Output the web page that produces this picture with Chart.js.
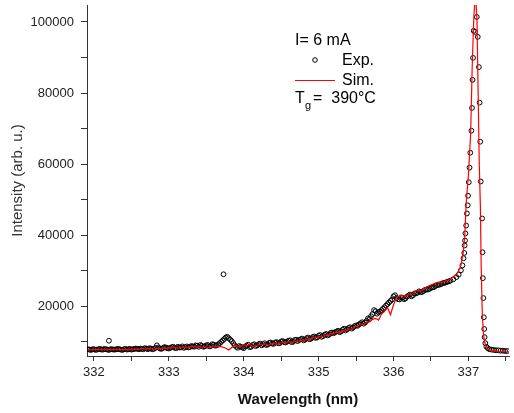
<!DOCTYPE html>
<html>
<head>
<meta charset="utf-8">
<title>Intensity vs wavelength</title>
<script src="https://cdn.jsdelivr.net/npm/chart.js@4.4.1/dist/chart.umd.min.js"></script>
<style>
  html, body { margin: 0; padding: 0; background: #fff; }
  #wrap { width: 514px; height: 413px; }
</style>
</head>
<body>
<div id="wrap"><canvas id="chart-spectrum" width="514" height="413"></canvas></div>
<script>
// ── Data ──────────────────────────────────────────────────────────
// common wavelength grid (nm) for the slowly rising part of the band
const lowWavelength = [
  331.92, 331.96, 332.00, 332.04, 332.08, 332.12, 332.16, 332.20, 332.24, 332.28,
  332.32, 332.36, 332.40, 332.44, 332.48, 332.52, 332.56, 332.60, 332.64, 332.68,
  332.72, 332.76, 332.80, 332.84, 332.88, 332.92, 332.96, 333.00, 333.04, 333.08,
  333.12, 333.16, 333.20, 333.24, 333.28, 333.32, 333.36, 333.40, 333.44, 333.48,
  333.52, 333.56, 333.60, 333.64, 333.68, 333.72, 333.76, 333.80, 333.84, 333.88,
  333.92, 333.96, 334.00, 334.04, 334.08, 334.12, 334.16, 334.20, 334.24, 334.28,
  334.32, 334.36, 334.40, 334.44, 334.48, 334.52, 334.56, 334.60, 334.64, 334.68,
  334.72, 334.76, 334.80, 334.84, 334.88, 334.92, 334.96, 335.00, 335.04, 335.08,
  335.12, 335.16, 335.20, 335.24, 335.28, 335.32, 335.36, 335.40, 335.44, 335.48,
  335.52, 335.56, 335.60, 335.64, 335.68, 335.72, 335.76, 335.80, 335.84, 335.88,
  335.92, 335.96, 336.00, 336.04, 336.08, 336.12, 336.16, 336.20, 336.24, 336.28,
  336.32, 336.36, 336.40, 336.44, 336.48, 336.52, 336.56, 336.60, 336.64, 336.68,
  336.72, 336.76,
];

const expLowIntensity = [
  7900, 7700, 7900, 7800, 8000, 7800, 7900, 7700, 7900, 7800,
  8000, 7800, 7900, 7800, 8000, 7900, 8100, 7900, 8000, 8200,
  7900, 8100, 8000, 9000, 8100, 8200, 8400, 8100, 8500, 8300,
  8600, 8400, 8300, 8700, 8500, 8700, 9000, 8600, 8900, 8700,
  9100, 8800, 9200, 9000, 9600, 10400, 11200, 11000, 10200, 9000,
  8300, 8600, 8200, 8900, 8500, 9100, 8800, 9300, 9000, 9600,
  9200, 9800, 9400, 9900, 9600, 10200, 9800, 10300, 9900, 10500,
  10200, 10700, 10400, 11000, 10700, 11300, 11100, 11700, 11400, 12000,
  11800, 12500, 12400, 12900, 12700, 13400, 13200, 13900, 13700, 14400,
  14500, 15200, 15100, 15900, 16400, 17800, 18600, 18300, 18900, 19700,
  20600, 21500, 22800, 22300, 21900, 22400, 22200, 23000, 22800, 23600,
  23800, 24000, 24300, 24700, 24900, 25300, 25700, 26000, 26300, 26600,
  26900, 27200,
];

// measured points lying between the grid values above
const midWavelength = [
  331.94, 331.98, 332.02, 332.06, 332.10, 332.14, 332.18, 332.22, 332.26, 332.30,
  332.34, 332.38, 332.42, 332.46, 332.50, 332.54, 332.58, 332.62, 332.66, 332.70,
  332.74, 332.78, 332.82, 332.86, 332.90, 332.94, 332.98, 333.02, 333.06, 333.10,
  333.14, 333.18, 333.22, 333.26, 333.30, 333.34, 333.38, 333.42, 333.46, 333.50,
  333.54, 333.58, 333.62, 333.66, 333.70, 333.74, 333.78, 333.82, 333.86, 333.90,
  333.94, 333.98, 334.02, 334.06, 334.10, 334.14, 334.18, 334.22, 334.26, 334.30,
  334.34, 334.38, 334.42, 334.46, 334.50, 334.54, 334.58, 334.62, 334.66, 334.70,
  334.74, 334.78, 334.82, 334.86, 334.90, 334.94, 334.98, 335.02, 335.06, 335.10,
  335.14, 335.18, 335.22, 335.26, 335.30, 335.34, 335.38, 335.42, 335.46, 335.50,
  335.54, 335.58, 335.62, 335.66, 335.70, 335.74, 335.78, 335.82, 335.86, 335.90,
  335.94, 335.98, 336.02, 336.06, 336.10, 336.14, 336.18, 336.22, 336.26, 336.30,
  336.34, 336.38, 336.42, 336.46, 336.50, 336.54, 336.58, 336.62, 336.66, 336.70,
  336.74,
];

const expMidIntensity = [
  7800, 7900, 7700, 7900, 7800, 8000, 7800, 7900, 7800, 7900,
  7900, 7700, 8000, 7900, 7800, 8000, 8000, 8100, 7900, 8100,
  8200, 7900, 8300, 8400, 8000, 8500, 8200, 8300, 8600, 8200,
  8400, 8700, 8500, 8400, 8800, 8600, 8900, 9100, 8600, 9000,
  8700, 9300, 8900, 9300, 10000, 10800, 11400, 10600, 9600, 8600,
  8800, 8400, 8700, 9200, 8600, 9300, 9000, 9500, 9300, 9100,
  9700, 9500, 9800, 9600, 10100, 9900, 10100, 10400, 10000, 10600,
  10500, 10900, 10600, 11200, 10900, 11500, 11200, 11900, 11600, 12200,
  12000, 12600, 12700, 13100, 12900, 13700, 13500, 14100, 14000, 14600,
  14900, 15500, 15400, 16600, 17200, 18900, 17900, 18500, 19300, 20200,
  21100, 21900, 23100, 22000, 22500, 22000, 22700, 23300, 23100, 23600,
  24200, 24000, 24600, 24700, 25200, 25400, 25900, 26100, 26500, 26700,
  27000,
];

const simLowIntensity = [
  7800, 7800, 7800, 7800, 7800, 7800, 7800, 7800, 7800, 7800,
  7800, 7800, 7800, 7800, 7800, 7800, 8000, 7900, 8100, 7900,
  8000, 8100, 7900, 8200, 8000, 8300, 8100, 8400, 8200, 8500,
  8200, 8400, 8600, 8300, 8500, 8800, 8500, 8700, 8400, 8600,
  8300, 8500, 8800, 8600, 8700, 8500, 8200, 7700, 8400, 9100,
  8700, 8600, 9200, 8800, 9300, 8700, 8700, 9300, 9100, 9500,
  9000, 9300, 9700, 9200, 9600, 9900, 9600, 10000, 9700, 10200,
  10000, 10400, 10200, 10800, 10600, 11200, 11000, 11500, 11300, 11900,
  11700, 12300, 12200, 12700, 12600, 13200, 13000, 13600, 13500, 14200,
  14300, 14900, 14800, 15500, 15600, 16300, 16600, 16100, 17800, 18600,
  19600, 17600, 20400, 22400, 22900, 23000, 22700, 23500, 23300, 24100,
  24500, 24200, 24900, 25400, 25800, 26200, 26500, 26800, 26700, 27000,
  27300, 27600,
];

// band head, measured points
const expPeakWavelength = [
  336.80, 336.84, 336.87, 336.90, 336.92, 336.935, 336.945, 336.95, 336.955, 336.96,
  336.97, 336.98, 336.99, 336.995, 337.005, 337.015, 337.025, 337.04, 337.048, 337.055,
  337.062, 337.07, 337.09, 337.112, 337.125, 337.14, 337.15, 337.158, 337.165, 337.183,
  337.188, 337.193, 337.20, 337.206, 337.211, 337.216, 337.226, 337.24, 337.26, 337.28,
  337.31, 337.34, 337.37, 337.40, 337.43, 337.46, 337.49, 337.52,
];
const expPeakIntensity = [
  27600, 28200, 28900, 30100, 31500, 33500, 35000, 37100, 38500, 40500,
  42700, 46100, 48400, 51100, 54900, 59000, 63200, 69400, 75800, 83700,
  89900, 97500, 97200, 101400, 95800, 87300, 77300, 66300, 55100, 44700,
  35200, 27900, 22300, 16900, 13600, 11300, 9600, 8600, 8200, 7900,
  7800, 7700, 7600, 7600, 7500, 7500, 7400, 7400,
];

// band head, simulated curve
const simPeakWavelength = [
  336.80, 336.84, 336.87, 336.90, 336.93, 336.95, 336.97, 337.00, 337.03, 337.05,
  337.07, 337.085, 337.10, 337.115, 337.13, 337.145, 337.16, 337.17, 337.185, 337.20,
  337.215, 337.25, 337.30, 337.40, 337.50, 337.55,
];
const simPeakIntensity = [
  28300, 29000, 30000, 31500, 35000, 39400, 48900, 57000, 68500, 87000,
  100000, 106000, 106000, 100000, 80000, 60000, 48000, 32000, 18000, 12500,
  10000, 8000, 7500, 7300, 7200, 7200,
];

// two stray measured points
const spikeWavelength = [332.20, 333.73];
const spikeIntensity  = [10300, 29000];

// axes
const xTicks = [332, 332.5, 333, 333.5, 334, 334.5, 335, 335.5, 336, 336.5, 337, 337.5];
const yTicks = [10000, 20000, 30000, 40000, 50000, 60000, 70000, 80000, 90000, 100000];

const CURRENT_LABEL = 'I= 6 mA';
const TEMP_LABEL    = '=  390°C';

const FONT = "'Liberation Sans', Arial, sans-serif";
const AXIS_COLOR = '#333';

// ── Build point lists ─────────────────────────────────────────────
function toPoints(xs, ys) {
  return xs.map((x, i) => ({ x, y: ys[i] }));
}

const expPoints = toPoints(lowWavelength, expLowIntensity)
  .concat(toPoints(midWavelength, expMidIntensity))
  .concat(toPoints(expPeakWavelength, expPeakIntensity))
  .concat(toPoints(spikeWavelength, spikeIntensity));
const simPoints = toPoints(lowWavelength, simLowIntensity)
  .concat(toPoints(simPeakWavelength, simPeakIntensity));

// ── In-plot legend text ───────────────────────────────────────────
const notePlugin = {
  id: 'note',
  afterDraw(chart) {
    const ctx = chart.ctx;
    ctx.save();
    ctx.fillStyle = '#000';
    ctx.textBaseline = 'alphabetic';
    ctx.font = `16px ${FONT}`;
    ctx.fillText(CURRENT_LABEL, 295, 45);

    ctx.beginPath();
    ctx.arc(315, 60, 2.3, 0, Math.PI * 2);
    ctx.strokeStyle = '#000';
    ctx.lineWidth = 1;
    ctx.stroke();
    ctx.fillText('Exp.', 342, 65);

    ctx.beginPath();
    ctx.moveTo(295, 80.5);
    ctx.lineTo(335, 80.5);
    ctx.strokeStyle = '#ff0000';
    ctx.stroke();
    ctx.fillText('Sim.', 342, 85);

    ctx.fillText('T', 295, 103);
    ctx.font = `11px ${FONT}`;
    ctx.fillText('g', 305, 109);
    ctx.font = `16px ${FONT}`;
    ctx.fillText(TEMP_LABEL, 313, 103);
    ctx.restore();
  },
};

// ── Chart ─────────────────────────────────────────────────────────
Chart.defaults.font.family = FONT;
Chart.defaults.color = '#222';

new Chart(document.getElementById('chart-spectrum'), {
  type: 'scatter',
  data: {
    datasets: [
      {
        label: 'Sim.',
        data: simPoints,
        showLine: true,
        borderColor: '#ff0000',
        borderWidth: 1.2,
        pointRadius: 0,
        tension: 0,
        order: 0,
      },
      {
        label: 'Exp.',
        data: expPoints,
        showLine: false,
        pointRadius: 2.4,
        pointBorderWidth: 1,
        pointBorderColor: '#000',
        pointBackgroundColor: 'rgba(0,0,0,0)',
        order: 1,
      },
    ],
  },
  options: {
    responsive: false,
    animation: false,
    layout: { padding: { top: 4, right: 1, bottom: 0, left: 0 } },
    plugins: {
      legend: { display: false },
      tooltip: { enabled: false },
    },
    scales: {
      x: {
        type: 'linear',
        position: 'bottom',
        min: 331.907,
        max: 337.542,
        border: { display: true, color: AXIS_COLOR, width: 1 },
        grid: { drawOnChartArea: false, drawTicks: true, tickLength: 5, color: AXIS_COLOR },
        afterBuildTicks: (axis) => { axis.ticks = xTicks.map(v => ({ value: v })); },
        afterFit: (axis) => {
          axis.height = 57;
          axis.paddingLeft = 0;
          axis.paddingRight = 0;
        },
        ticks: {
          autoSkip: false,
          maxRotation: 0,
          padding: 4,
          color: '#222',
          font: { size: 13 },
          callback: (v) => Number.isInteger(v) ? String(v) : '',
        },
        title: {
          display: true,
          text: 'Wavelength (nm)',
          color: '#111',
          font: { size: 15, weight: 'bold' },
          padding: { top: 0, bottom: 4 },
        },
      },
      y: {
        type: 'linear',
        position: 'left',
        min: 6000,
        max: 104770,
        border: { display: true, color: AXIS_COLOR, width: 1 },
        grid: { drawOnChartArea: false, drawTicks: true, tickLength: 6, color: AXIS_COLOR },
        afterBuildTicks: (axis) => { axis.ticks = yTicks.map(v => ({ value: v })); },
        afterFit: (axis) => {
          axis.width = 87;
          axis.paddingTop = 0;
          axis.paddingBottom = 0;
        },
        ticks: {
          autoSkip: false,
          padding: 7,
          color: '#222',
          font: { size: 13 },
          callback: (v) => (v % 20000 === 0 ? String(v) : ''),
        },
        title: {
          display: true,
          text: 'Intensity (arb. u.)',
          color: '#333',
          font: { size: 15 },
          padding: { top: 9, bottom: 0 },
        },
      },
    },
  },
  plugins: [notePlugin],
});
</script>
</body>
</html>
